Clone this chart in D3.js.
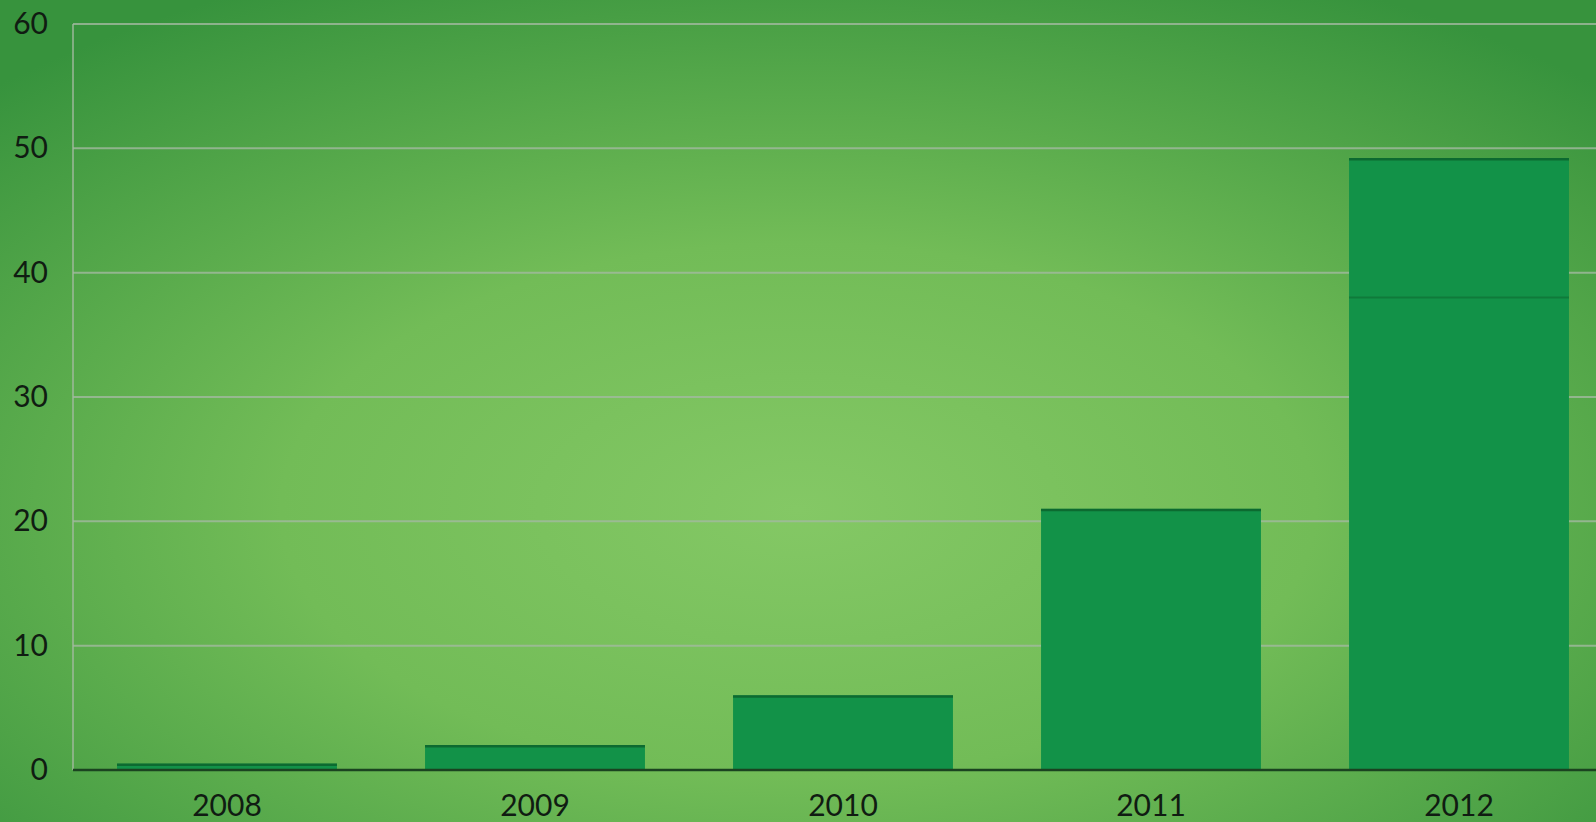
<!DOCTYPE html>
<html lang="en">
<head>
    <meta charset="UTF-8">
    <title>Bar chart 2008-2012</title>
    <script src="https://d3js.org/d3.v7.min.js"></script>
    <style>
        html, body { margin: 0; padding: 0; overflow: hidden; }
        body { width: 1596px; height: 822px; }
        .tick text { font-family: Lato, "Open Sans", sans-serif; fill: #101c12; }
    </style>
</head>
<body>
    <div id="chart"></div>
    <script>
        // Data
        const years = ["2008", "2009", "2010", "2011", "2012"];
        const values = [0.5, 2.0, 6.0, 21.0, 49.2];
        // inner divider seen inside the 2012 bar
        const innerMarks = [null, null, null, null, 38];
        const yTicks = [0, 10, 20, 30, 40, 50, 60];

        const W = 1596, H = 822;
        const margin = {top: 24, left: 73, bottom: 52};
        const step = 308;
        const plotRight = margin.left + step * years.length;

        const svg = d3.select("#chart").append("svg")
            .attr("width", W)
            .attr("height", H);

        // Background gradient
        const defs = svg.append("defs");
        const grad = defs.append("radialGradient")
            .attr("id", "bg")
            .attr("cx", "50%").attr("cy", "62%")
            .attr("r", "72%");
        grad.append("stop").attr("offset", "0%").attr("stop-color", "#84c865");
        grad.append("stop").attr("offset", "45%").attr("stop-color", "#72bc57");
        grad.append("stop").attr("offset", "100%").attr("stop-color", "#37933d");

        svg.append("rect")
            .attr("width", W).attr("height", H)
            .attr("fill", "url(#bg)");

        const x = d3.scaleBand()
            .domain(years)
            .range([margin.left, plotRight])
            .paddingInner(0.286)
            .paddingOuter(0.143);

        const y = d3.scaleLinear()
            .domain([0, 60])
            .range([H - margin.bottom, margin.top]);

        // Gridlines
        svg.append("g")
            .selectAll("line")
            .data(yTicks.filter(d => d > 0))
            .join("line")
            .attr("x1", margin.left)
            .attr("x2", plotRight)
            .attr("y1", d => y(d))
            .attr("y2", d => y(d))
            .attr("stroke", "#a3b9a0")
            .attr("stroke-opacity", 0.8)
            .attr("stroke-width", 2);

        // Left vertical line
        svg.append("line")
            .attr("x1", margin.left).attr("x2", margin.left)
            .attr("y1", y(60)).attr("y2", y(0))
            .attr("stroke", "#a3b9a0")
            .attr("stroke-opacity", 0.7)
            .attr("stroke-width", 2);

        // Bars
        svg.append("g")
            .selectAll("rect")
            .data(values)
            .join("rect")
            .attr("x", (d, i) => x(years[i]))
            .attr("width", x.bandwidth())
            .attr("y", d => y(d))
            .attr("height", d => y(0) - y(d))
            .attr("fill", "#129248");

        // Darker top edge of each bar
        svg.append("g")
            .selectAll("line")
            .data(values)
            .join("line")
            .attr("x1", (d, i) => x(years[i]))
            .attr("x2", (d, i) => x(years[i]) + x.bandwidth())
            .attr("y1", d => y(d) + 1)
            .attr("y2", d => y(d) + 1)
            .attr("stroke", "#0c6a30")
            .attr("stroke-width", 2.5);

        // Inner divider
        svg.append("g")
            .selectAll("line")
            .data(innerMarks.map((d, i) => ({v: d, year: years[i]})).filter(d => d.v !== null))
            .join("line")
            .attr("x1", d => x(d.year))
            .attr("x2", d => x(d.year) + x.bandwidth())
            .attr("y1", d => y(d.v))
            .attr("y2", d => y(d.v))
            .attr("stroke", "#0f7a3a")
            .attr("stroke-width", 2);

        // Baseline
        svg.append("line")
            .attr("x1", margin.left).attr("x2", W)
            .attr("y1", y(0)).attr("y2", y(0))
            .attr("stroke", "#1b4320")
            .attr("stroke-width", 2.5);

        // Y axis labels
        const yAxis = svg.append("g")
            .attr("transform", `translate(${margin.left - 25},0)`)
            .call(d3.axisLeft(y).tickValues(yTicks).tickSize(0).tickPadding(0));
        yAxis.select(".domain").remove();
        yAxis.selectAll("text").attr("font-size", "30px");

        // X axis labels
        const xAxis = svg.append("g")
            .attr("transform", `translate(0,${y(0)})`)
            .call(d3.axisBottom(x).tickSize(0).tickPadding(25));
        xAxis.select(".domain").remove();
        xAxis.selectAll("text").attr("font-size", "30px");
    </script>
</body>
</html>
